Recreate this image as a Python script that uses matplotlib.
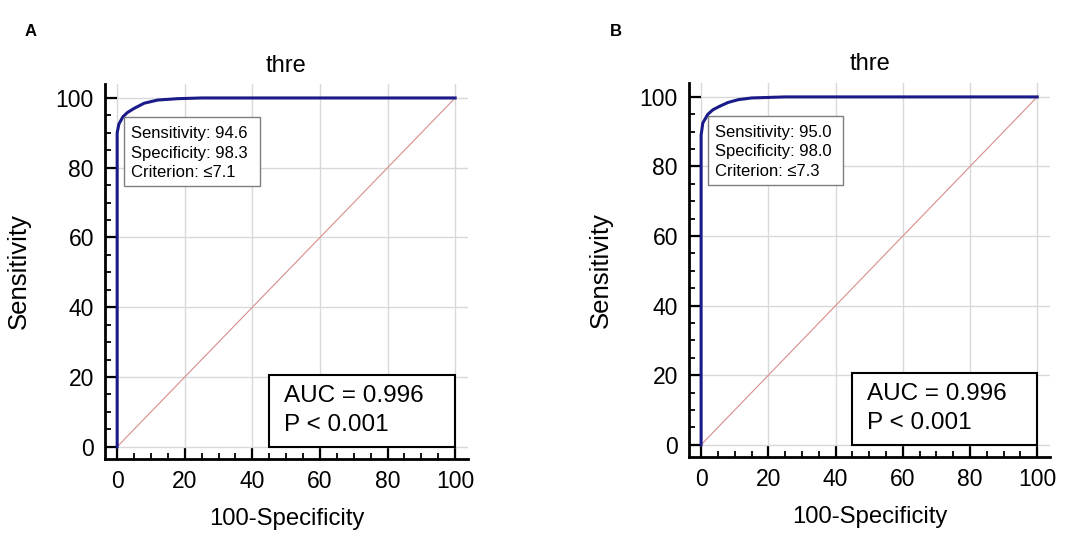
import matplotlib
matplotlib.use("Agg")
import matplotlib.pyplot as plt
from matplotlib.patches import Rectangle
from matplotlib.ticker import MultipleLocator

plt.rcParams['font.family'] = ['Liberation Sans', 'DejaVu Sans']

# ROC data (100-Specificity, Sensitivity)
fpr_a = [0, 0, 0.5, 1.7, 3.0, 5.0, 8.0, 12.0, 18.0, 25.0, 100]
tpr_a = [0, 90.0, 92.5, 94.6, 95.8, 97.0, 98.5, 99.4, 99.8, 100, 100]
fpr_b = [0, 0, 0.5, 2.0, 3.5, 5.5, 8.0, 11.0, 15.0, 25.0, 100]
tpr_b = [0, 89.0, 92.5, 95.0, 96.3, 97.3, 98.4, 99.2, 99.7, 100, 100]
diag = [0, 100]

info_a = ["Sensitivity: 94.6", "Specificity: 98.3", "Criterion: \u22647.1"]
info_b = ["Sensitivity: 95.0", "Specificity: 98.0", "Criterion: \u22647.3"]
auc_lines = ["AUC = 0.996", "P < 0.001"]
titles = ["thre", "thre"]
panel_labels = ["A", "B"]
ticks = [0, 20, 40, 60, 80, 100]

W, H = 1084, 535
fig = plt.figure(figsize=(W / 100, H / 100), dpi=100)

def px_axes(l, r, t, b):
    return fig.add_axes([l / W, 1 - b / H, (r - l) / W, (b - t) / H])

ax_a = px_axes(105, 468, 84, 459)
ax_b = px_axes(689, 1050, 83, 457)

navy = '#1a1a88'
for ax, fx, ty, info, title, ylx in [(ax_a, fpr_a, tpr_a, info_a, titles[0], -0.205),
                                     (ax_b, fpr_b, tpr_b, info_b, titles[1], -0.21)]:
    ax.set_xlim(-3.6, 103.8)
    ax.set_ylim(-3.5, 104)
    for s in ['top', 'right']:
        ax.spines[s].set_visible(False)
    for s in ['left', 'bottom']:
        ax.spines[s].set_linewidth(2.0)
    ax.set_xticks(ticks)
    ax.set_yticks(ticks)
    ax.xaxis.set_minor_locator(MultipleLocator(5))
    ax.yaxis.set_minor_locator(MultipleLocator(5))
    ax.tick_params(which='major', direction='in', length=8.5, width=1.6,
                   labelsize=16.5, pad=8)
    ax.tick_params(which='minor', direction='in', length=4.5, width=1.3)
    ax.grid(True, which='major', color='#d9d9d9', lw=1.0)
    ax.set_axisbelow(True)
    ax.plot(diag, diag, color='#d98c8c', lw=0.8, zorder=2)
    ax.plot(fx, ty, color=navy, lw=2.2, zorder=4, solid_joinstyle='round')
    ax.set_title(title, fontsize=17, pad=9)
    ax.set_xlabel("100-Specificity", fontsize=17.2)
    ax.xaxis.set_label_coords(0.5, -0.132)
    ax.set_ylabel("Sensitivity", fontsize=18.5)
    ax.yaxis.set_label_coords(ylx, 0.5)
    # info box
    ax.add_patch(Rectangle((2.0, 74.7), 40.2, 19.8, facecolor='white',
                           edgecolor='#7f7f7f', lw=1.0, zorder=5))
    for i, line in enumerate(info):
        ax.text(4.2, 89.9 - i * 5.7, line, fontsize=12, va='center',
                ha='left', zorder=6)
    # AUC box
    ax.add_patch(Rectangle((45, 0), 55, 20.6, facecolor='white',
                           edgecolor='black', lw=1.5, zorder=5))
    for i, line in enumerate(auc_lines):
        ax.text(49.4, 14.6 - i * 8.3, line, fontsize=17.5, va='center',
                ha='left', zorder=6)

fig.text(25 / W, 1 - 31 / H, panel_labels[0], fontsize=12, fontweight='bold',
         ha='left', va='center')
fig.text(610 / W, 1 - 31 / H, panel_labels[1], fontsize=12, fontweight='bold',
         ha='left', va='center')

fig.savefig("out.png", dpi=100)
